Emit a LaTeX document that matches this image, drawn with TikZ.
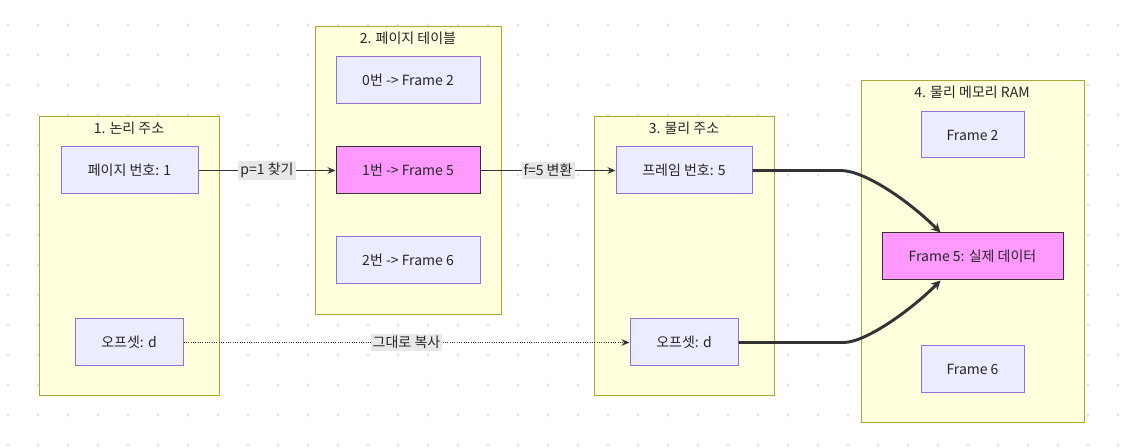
\documentclass[tikz,border=0pt]{standalone}
\usepackage{fontspec}
\setmainfont{Noto Sans CJK KR}
\usetikzlibrary{arrows.meta,calc}
\definecolor{clfill}{HTML}{FFFFDE}
\definecolor{cldraw}{HTML}{AAAA33}
\definecolor{ndfill}{HTML}{ECECFF}
\definecolor{nddraw}{HTML}{9370DB}
\definecolor{hifill}{HTML}{FF99FF}
\definecolor{line}{HTML}{333333}
\definecolor{lblbg}{HTML}{E8E8E8}
\definecolor{dotc}{HTML}{E3E3E3}
\tikzset{
  cluster/.style={draw=cldraw, fill=clfill, line width=0.75pt},
  cltitle/.style={font=\fontsize{10.5}{12}\selectfont, text=black!85, inner sep=0pt},
  nd/.style={draw=nddraw, fill=ndfill, line width=0.75pt, font=\fontsize{10.5}{12}\selectfont, text=black!85, inner sep=0pt},
  hi/.style={nd, draw=line, fill=hifill},
  thinarrow/.style={draw=line, line width=0.6pt, -{Stealth[length=6pt,width=5pt]}},
  dotarrow/.style={draw=line, line width=0.75pt, densely dotted, -{Stealth[length=6pt,width=5pt]}},
  thickarrow/.style={draw=line, line width=2.2pt, -{Stealth[length=7pt,width=7pt]}},
  lbl/.style={fill=lblbg, font=\fontsize{10.5}{12}\selectfont, text=black!85, inner sep=1.5pt}
}
\begin{document}
\begin{tikzpicture}[x=0.75pt,y=-0.75pt]
\useasboundingbox (0,0) rectangle (1135,448);
\fill[white] (0,0) rectangle (1135,448);
\foreach \i in {0,...,37} \foreach \j in {0,...,14} \fill[dotc] (8+30*\i,25+30*\j) circle (1.6);
% clusters
\draw[cluster] (39,117) rectangle (219,396);
\node[cltitle] (t1) at (129,128) {1. 논리 주소};
\draw[cluster] (315,27) rectangle (501,315);
\node[cltitle] (t2) at (408,38) {2. 페이지 테이블};
\draw[cluster] (594,117) rectangle (774,396);
\node[cltitle] (t3) at (684,128) {3. 물리 주소};
\draw[cluster] (861,81) rectangle (1084,423);
\node[cltitle] (t4) at (972,92) {4. 물리 메모리 RAM};
% nodes
\node[nd, minimum width=102.75pt, minimum height=35.25pt] (pn) at (129.5,170.5) {페이지 번호: 1};
\node[nd, minimum width=81pt, minimum height=35.25pt] (off1) at (129,342.5) {오프셋: d};
\node[nd, minimum width=108pt, minimum height=35.25pt] (pt0) at (408,80.5) {0번 -> Frame 2};
\node[hi, minimum width=108pt, minimum height=35.25pt] (pt1) at (408,170.5) {1번 -> Frame 5};
\node[nd, minimum width=108pt, minimum height=35.25pt] (pt2) at (408,260.5) {2번 -> Frame 6};
\node[nd, minimum width=102pt, minimum height=35.25pt] (fn) at (684,170.5) {프레임 번호: 5};
\node[nd, minimum width=81pt, minimum height=35.25pt] (off2) at (684,342.5) {오프셋: d};
\node[nd, minimum width=77.25pt, minimum height=34.5pt] (fr2) at (972.5,135) {Frame 2};
\node[hi, minimum width=135.75pt, minimum height=35.25pt] (fr5) at (972.5,256.5) {Frame 5: 실제 데이터};
\node[nd, minimum width=77.25pt, minimum height=35.25pt] (fr6) at (972.5,369.5) {Frame 6};
% edges
\draw[thinarrow] (pn) -- node[lbl] (l1) {p=1 찾기} (pt1);
\draw[thinarrow] (pt1) -- node[lbl] (l2) {f=5 변환} (fn);
\draw[dotarrow] (off1) -- node[lbl, pos=0.5] (l3) {그대로 복사} (off2);
\coordinate (e1) at ($(fr5.north)+(-32,0)$);
\coordinate (e2) at ($(fr5.south)+(-32,0)$);
\draw[thickarrow] (fn.east) -- ++(88,0) .. controls +(25,0) and +(-30,-30) .. (e1);
\draw[thickarrow] (off2.east) -- ++(105,0) .. controls +(22,0) and +(-30,30) .. (e2);
\end{tikzpicture}
\end{document}
